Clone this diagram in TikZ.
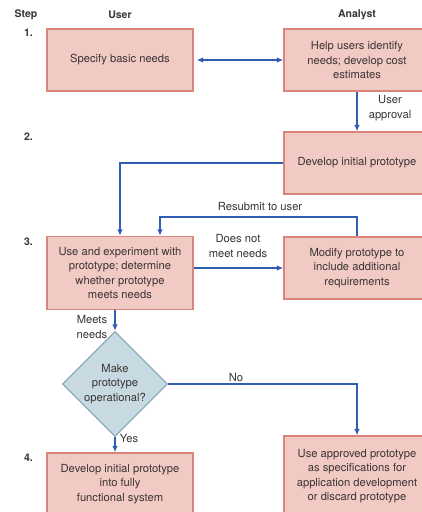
\documentclass[tikz,border=0pt]{standalone}
\usepackage{fontspec}
\setmainfont{TeX Gyre Heros}
\usetikzlibrary{arrows.meta,shapes.geometric}
\definecolor{boxfill}{HTML}{F2CAC4}
\definecolor{boxline}{HTML}{D9857C}
\definecolor{dfill}{HTML}{C7DAE2}
\definecolor{dline}{HTML}{8DAAB8}
\definecolor{arr}{HTML}{2F5EB3}
\definecolor{txt}{HTML}{3A3434}
\begin{document}
\begin{tikzpicture}[x=1pt,y=-1pt,
  every node/.style={text=txt,font=\fontsize{11.2}{14.5}\selectfont},
  procbox/.style={draw=boxline,fill=boxfill,line width=1.3pt,minimum width=146pt,align=center,inner sep=2pt},
  decision/.style={diamond,draw=dline,fill=dfill,line width=1.3pt,minimum width=97pt,minimum height=90pt,inner sep=0pt,align=center},
  flow/.style={draw=arr,line width=1.3pt,-{Latex[length=6.5pt,width=5.5pt]}},
  head/.style={font=\fontsize{10.5}{12}\selectfont\bfseries,text=txt},
  lbl/.style={align=center,inner sep=0pt}]
\clip (0,0) rectangle (422,512);
\fill[white] (0,0) rectangle (422,512);
% headers
\node[head] (hstep) at (26,15) {Step};
\node[head] (huser) at (120,15) {User};
\node[head] (hanalyst) at (357,15) {Analyst};
\node[head] (s1) at (28.5,33) {1.};
\node[head] (s2) at (28.5,137) {2.};
\node[head] (s3) at (28.5,242) {3.};
\node[head] (s4) at (28.5,458) {4.};
% boxes
\node[procbox,minimum height=62pt] (b1) at (120,60) {Specify basic needs};
\node[procbox,minimum height=62pt] (a1) at (357,60) {Help users identify\\needs; develop cost\\estimates};
\node[procbox,minimum height=62pt] (a2) at (357,163) {Develop initial prototype};
\node[procbox,minimum height=73pt] (b3) at (120,273) {Use and experiment with\\prototype; determine\\whether prototype\\meets needs};
\node[procbox,minimum height=62pt] (m3) at (357,268) {Modify prototype to\\include additional\\requirements};
\node[decision] (d) at (115,384) {\raisebox{5pt}{\begin{tabular}{@{}c@{}}Make\\prototype\\operational?\end{tabular}}};
\node[procbox,minimum height=62pt] (b4) at (120,484) {Develop initial prototype\\into fully\\functional system};
\node[procbox,minimum height=80pt] (a4) at (357,476) {Use approved prototype\\as specifications for\\application development\\or discard prototype};
% connectors
\draw[flow,{Latex[length=6.5pt,width=5.5pt]}-{Latex[length=6.5pt,width=5.5pt]},shorten <=3pt] (b1.east) -- (a1.west);
\draw[flow] (a1.south) -- (a2.north);
\node[lbl] (lua) at (390,108) {User\\approval};
\draw[flow] (a2.west) -| (b3.north);
\coordinate (rs) at (357,217);
\draw[flow] (m3.north) -- (rs) -| ([xshift=40pt]b3.north);
\node[lbl] (lrs) at (260,206) {Resubmit to user};
\draw[flow] (b3.east |- m3.west) -- (m3.west);
\node[lbl] (ldn) at (238,246) {Does not\\meet needs};
\draw[flow] (b3.south -| d.north) -- (d.north);
\node[lbl] (lmn) at (92,327) {Meets\\needs};
\draw[flow] (d.east) -| (a4.north);
\node[lbl] (lno) at (236,377) {No};
\draw[flow] (d.south) -- (d.south |- b4.north);
\node[lbl] (lyes) at (129,438) {Yes};
\end{tikzpicture}
\end{document}
